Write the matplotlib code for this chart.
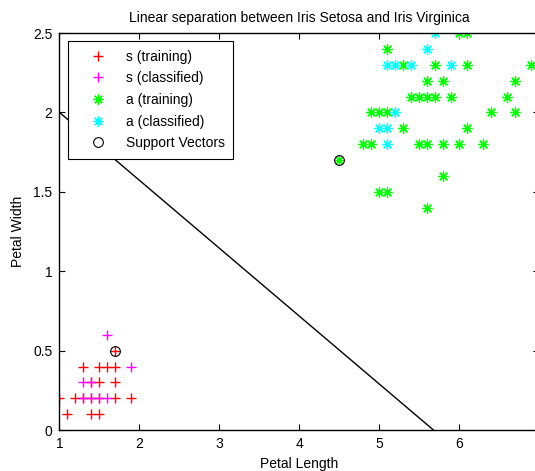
import numpy as np
import matplotlib.pyplot as plt

plt.rcParams['font.family'] = ['Liberation Sans', 'DejaVu Sans']
plt.rcParams['font.size'] = 10

# Setosa (s) - petal length / petal width
s_train_x = [1.0, 1.2, 1.3, 1.4, 1.5, 1.7, 1.9, 1.4, 1.5, 1.7, 1.3, 1.5, 1.6, 1.7, 1.1, 1.4, 1.5, 1.7]
s_train_y = [0.2, 0.2, 0.2, 0.2, 0.2, 0.2, 0.2, 0.3, 0.3, 0.3, 0.4, 0.4, 0.4, 0.4, 0.1, 0.1, 0.1, 0.5]
s_class_x = [1.6, 1.9, 1.3, 1.4, 1.3, 1.4, 1.5, 1.6]
s_class_y = [0.6, 0.4, 0.3, 0.3, 0.2, 0.2, 0.2, 0.2]

# Virginica (a)
a_train_x = [6.0, 6.1, 5.1, 5.3, 5.7, 6.1, 6.9, 5.6, 5.8, 6.7, 5.4, 5.5, 5.6, 5.7, 5.9, 6.6,
             4.9, 5.0, 5.1, 6.4, 6.7, 5.3, 6.1, 4.8, 4.9, 5.5, 5.6, 5.8, 6.0, 6.3, 4.5, 5.8,
             5.0, 5.1, 5.6]
a_train_y = [2.5, 2.5, 2.4, 2.3, 2.3, 2.3, 2.3, 2.2, 2.2, 2.2, 2.1, 2.1, 2.1, 2.1, 2.1, 2.1,
             2.0, 2.0, 2.0, 2.0, 2.0, 1.9, 1.9, 1.8, 1.8, 1.8, 1.8, 1.8, 1.8, 1.8, 1.7, 1.6,
             1.5, 1.5, 1.4]
a_class_x = [5.7, 5.6, 5.1, 5.2, 5.4, 5.9, 5.2, 5.0, 5.1, 5.1]
a_class_y = [2.5, 2.4, 2.3, 2.3, 2.3, 2.3, 2.0, 1.9, 1.9, 1.8]

# Support vectors
sv_x = [1.7, 4.5]
sv_y = [0.5, 1.7]

# Separating line
boundary_x = [1.0, 5.68]
boundary_y = [2.0, 0.0]

fig = plt.figure(figsize=(5.35, 4.71), dpi=100)
ax = fig.add_axes([0.1112, 0.0870, 0.8961, 0.8429])

ax.plot(boundary_x, boundary_y, color='black', linewidth=1.0)

star = (8, 2, 0)
ax.plot(s_train_x, s_train_y, '+', color='red', markersize=7.5, mew=1.0, label='s (training)')
ax.plot(s_class_x, s_class_y, '+', color='magenta', markersize=7.5, mew=1.0, label='s (classified)')
ax.plot(a_train_x, a_train_y, linestyle='none', marker=star, color='#00ff00', markersize=7.5,
        mew=0.9, label='a (training)')
ax.plot(a_class_x, a_class_y, linestyle='none', marker=star, color='cyan', markersize=7.5,
        mew=0.9, label='a (classified)')
ax.plot(sv_x, sv_y, 'o', color='black', markersize=7, mew=0.8, fillstyle='none',
        label='Support Vectors')

ax.set_xlim(1, 7)
ax.set_ylim(0, 2.5)
ax.set_xticks([1, 2, 3, 4, 5, 6, 7])
ax.set_xticklabels(['1', '2', '3', '4', '5', '6', ''])
ax.set_yticks([0, 0.5, 1, 1.5, 2, 2.5])
ax.set_yticklabels(['0', '0.5', '1', '1.5', '2', '2.5'])
ax.tick_params(direction='in', length=4, width=0.8, top=True, right=True, pad=5)
for sp in ax.spines.values():
    sp.set_linewidth(1.0)

ax.set_title('Linear separation between Iris Setosa and Iris Virginica', fontsize=10, pad=8)
ax.set_xlabel('Petal Length', labelpad=4)
ax.set_ylabel('Petal Width', labelpad=6)

leg = ax.legend(loc='upper left', fancybox=False, framealpha=1, edgecolor='black',
                borderpad=0.6, handlelength=3.2, handletextpad=0.4, labelspacing=0.55,
                borderaxespad=0.6)
leg.get_frame().set_linewidth(0.8)

fig.savefig('out.png', dpi=100)
